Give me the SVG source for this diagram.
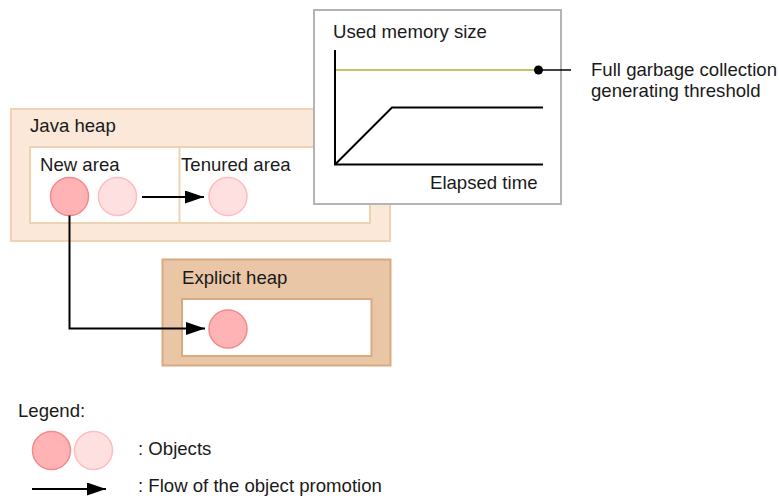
<svg xmlns="http://www.w3.org/2000/svg" width="779" height="498" viewBox="0 0 779 498">
  <defs>
    <style>
      text { font-family: "Liberation Sans", Arial, sans-serif; font-size: 18.6px; fill: #1a1a1a; }
      .obj-dark { fill: #ffb3b5; stroke: #f38a8c; stroke-width: 1.5; }
      .obj-light { fill: #ffe0e0; stroke: #ffbcbc; stroke-width: 1.5; }
      .flow { fill: none; stroke: #000; stroke-width: 2; }
      .axis { fill: none; stroke: #000; stroke-width: 2; }
    </style>
    <marker id="arrowhead" markerUnits="userSpaceOnUse" markerWidth="20" markerHeight="14" refX="19" refY="6.5" orient="auto">
      <path d="M0,0 L19,6.5 L0,13 Z" fill="#000"/>
    </marker>
  </defs>

  <rect width="779" height="498" fill="#fff"/>

  <!-- Java heap with new and tenured areas -->
  <g id="java-heap">
    <rect x="11" y="109" width="379" height="132" fill="#fbe8d8" stroke="#f0d2b4" stroke-width="2"/>
    <rect x="30" y="147" width="340" height="76" fill="#fff" stroke="#efd2b4" stroke-width="2"/>
    <line x1="179.5" y1="147" x2="179.5" y2="223" stroke="#efd2b4" stroke-width="2"/>
    <text x="30" y="132">Java heap</text>
  </g>
  <g id="new-area">
    <text x="40" y="171">New area</text>
    <circle class="obj-dark" cx="69.5" cy="196.5" r="19"/>
    <circle class="obj-light" cx="117.5" cy="196.5" r="19"/>
  </g>
  <g id="tenured-area">
    <text x="181" y="171">Tenured area</text>
    <circle class="obj-light" cx="228" cy="196.5" r="19"/>
  </g>

  <!-- Explicit heap -->
  <g id="explicit-heap">
    <rect x="162.5" y="259.5" width="228" height="106" fill="#e8c6a6" stroke="#d9aa80" stroke-width="2"/>
    <rect x="182" y="299" width="189.5" height="57" fill="#fff" stroke="#d9aa80" stroke-width="2"/>
    <text x="182" y="284">Explicit heap</text>
    <circle class="obj-dark" cx="228" cy="329" r="19"/>
  </g>

  <!-- Memory usage chart -->
  <g id="memory-chart">
    <rect x="314" y="10" width="247" height="194" fill="#fff" stroke="#b4b4b4" stroke-width="2"/>
    <text x="333" y="38">Used memory size</text>
    <line x1="335" y1="70" x2="538" y2="70" stroke="#c4c464" stroke-width="2"/>
    <line class="axis" x1="335" y1="50" x2="335" y2="165"/>
    <line class="axis" x1="334" y1="164.5" x2="543" y2="164.5"/>
    <polyline class="axis" points="335,164.5 392,107.5 543,107.5"/>
    <text x="430" y="189">Elapsed time</text>
  </g>

  <!-- Threshold callout -->
  <g id="threshold-label">
    <circle cx="538.5" cy="70" r="4.5" fill="#000"/>
    <line x1="538" y1="70" x2="571" y2="70" stroke="#000" stroke-width="1.5"/>
    <text x="591" y="76">Full garbage collection</text>
    <text x="591" y="97">generating threshold</text>
  </g>

  <!-- Promotion flows -->
  <g id="connectors">
    <line class="flow" x1="142" y1="197" x2="204" y2="197" marker-end="url(#arrowhead)"/>
    <polyline class="flow" points="69.5,215.5 69.5,328.5 205,328.5" marker-end="url(#arrowhead)"/>
  </g>

  <!-- Legend -->
  <g id="legend">
    <text x="18" y="417">Legend:</text>
    <circle class="obj-dark" cx="51.5" cy="450.5" r="19"/>
    <circle class="obj-light" cx="93.5" cy="450.5" r="19"/>
    <text x="138" y="455">: Objects</text>
    <line class="flow" x1="32" y1="489" x2="106" y2="489" marker-end="url(#arrowhead)"/>
    <text x="138" y="492">: Flow of the object promotion</text>
  </g>
</svg>
